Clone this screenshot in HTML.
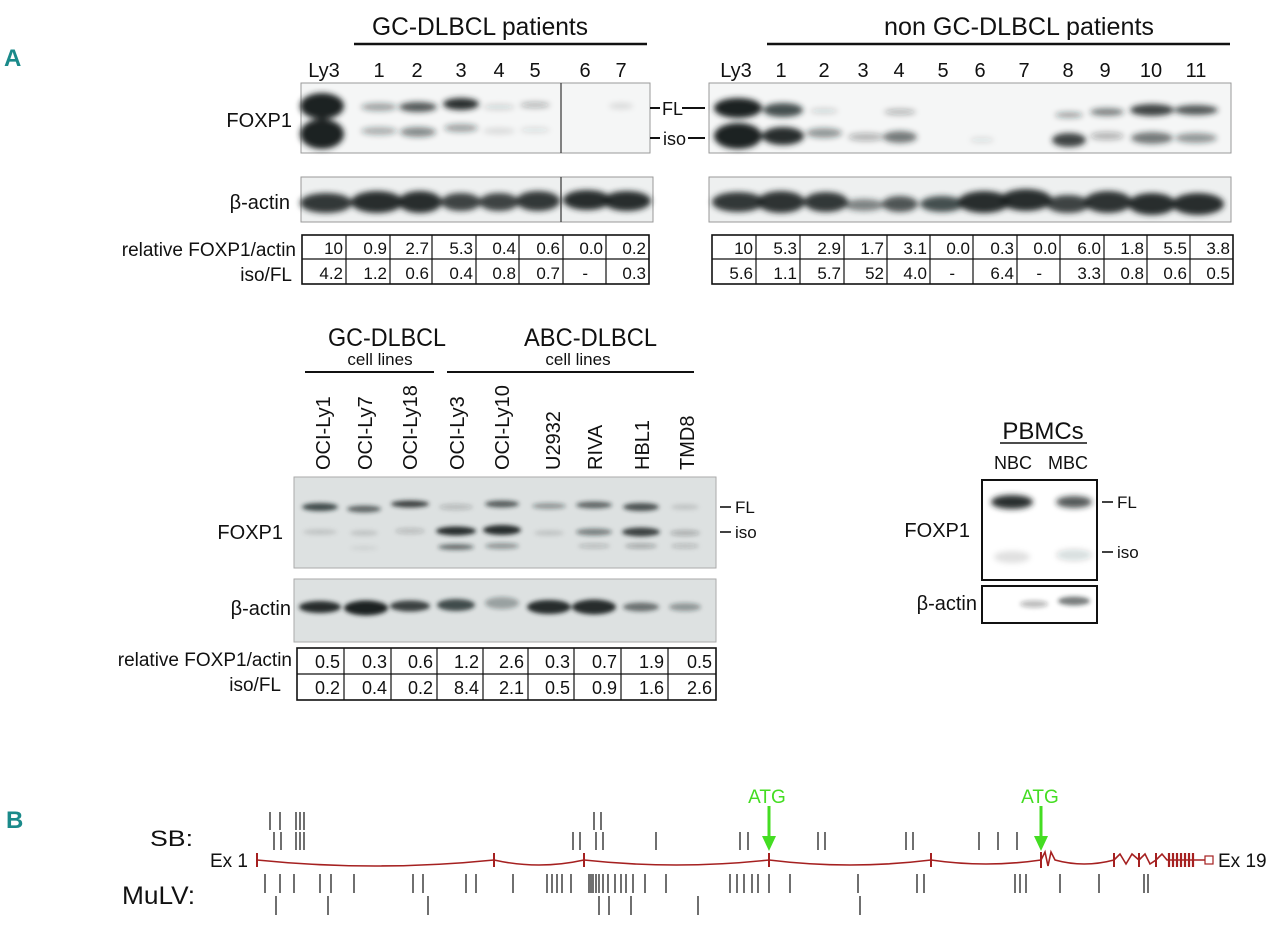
<!DOCTYPE html>
<html><head><meta charset="utf-8"><style>
html,body{margin:0;padding:0;background:#fff;}
svg{display:block;}
text{font-family:"Liberation Sans Narrow","Liberation Sans",sans-serif;fill:#111;}
</style></head><body>
<svg width="1280" height="931" viewBox="0 0 1280 931" xmlns="http://www.w3.org/2000/svg">
<defs>
<filter id="b" x="-50%" y="-100%" width="200%" height="300%"><feGaussianBlur stdDeviation="3"/></filter>
<filter id="b2" x="-50%" y="-100%" width="200%" height="300%"><feGaussianBlur stdDeviation="2"/></filter>
</defs>

<text x="4" y="66" font-size="24" font-weight="bold" style="fill:#1a8a8a">A</text>
<text x="6" y="828" font-size="24" font-weight="bold" style="fill:#1a8a8a">B</text>

<!-- ===== Top-left panel ===== -->
<text x="372" y="35" font-size="25" textLength="216" lengthAdjust="spacingAndGlyphs">GC-DLBCL patients</text>
<line x1="354" y1="44" x2="647" y2="44" stroke="#111" stroke-width="2.5"/>
<g font-size="20" text-anchor="middle">
<text x="324" y="77">Ly3</text><text x="379" y="77">1</text><text x="417" y="77">2</text><text x="461" y="77">3</text>
<text x="499" y="77">4</text><text x="535" y="77">5</text><text x="585" y="77">6</text><text x="621" y="77">7</text>
</g>
<rect x="301" y="83" width="349" height="70" fill="#f5f6f6" stroke="#999"/>
<g filter="url(#b)" fill="#1c2424">
<ellipse cx="322" cy="106" rx="22" ry="13"/><ellipse cx="322" cy="134" rx="22" ry="15"/>
<ellipse cx="379" cy="107" rx="18" ry="4" opacity=".4"/><ellipse cx="379" cy="131" rx="18" ry="4" opacity=".35"/>
<ellipse cx="418" cy="107" rx="19" ry="5" opacity=".75"/><ellipse cx="418" cy="132" rx="18" ry="5" opacity=".5"/>
<ellipse cx="461" cy="104" rx="18" ry="6" opacity=".95"/><ellipse cx="461" cy="128" rx="17" ry="4" opacity=".4"/>
<ellipse cx="499" cy="107" rx="16" ry="3" opacity=".15"/><ellipse cx="499" cy="131" rx="16" ry="3" opacity=".12"/>
<ellipse cx="535" cy="105" rx="15" ry="3" opacity=".3"/><ellipse cx="535" cy="130" rx="15" ry="3" opacity=".1"/>
<ellipse cx="621" cy="106" rx="12" ry="3" opacity=".12"/>
</g>
<line x1="561" y1="83" x2="561" y2="153" stroke="#333" stroke-width="1.2"/>
<text x="292" y="127" font-size="20" text-anchor="end">FOXP1</text>

<rect x="301" y="177" width="352" height="45" fill="#eef0f0" stroke="#999"/>
<g filter="url(#b)" fill="#1c2424">
<ellipse cx="326" cy="203" rx="26" ry="10" opacity=".9"/><ellipse cx="377" cy="202" rx="26" ry="11" opacity=".95"/>
<ellipse cx="420" cy="202" rx="22" ry="11" opacity=".95"/><ellipse cx="461" cy="202" rx="20" ry="9" opacity=".85"/>
<ellipse cx="499" cy="202" rx="20" ry="9" opacity=".85"/><ellipse cx="538" cy="201" rx="22" ry="10" opacity=".9"/>
<ellipse cx="587" cy="200" rx="24" ry="10" opacity=".95"/><ellipse cx="627" cy="201" rx="24" ry="10" opacity=".95"/>
</g>
<line x1="561" y1="177" x2="561" y2="222" stroke="#333" stroke-width="1.2"/>
<text x="290" y="209" font-size="20" text-anchor="end">β-actin</text>

<text x="296" y="256" font-size="19" text-anchor="end">relative FOXP1/actin</text>
<text x="292" y="281" font-size="19" text-anchor="end">iso/FL</text>
<rect x="302" y="235" width="347" height="49" fill="none" stroke="#111" stroke-width="1.6"/>
<line x1="302" y1="259" x2="649" y2="259" stroke="#111" stroke-width="1.2"/>
<g stroke="#111" stroke-width="1.2">
<line x1="346" y1="235" x2="346" y2="284"/><line x1="390" y1="235" x2="390" y2="284"/><line x1="432" y1="235" x2="432" y2="284"/>
<line x1="476" y1="235" x2="476" y2="284"/><line x1="519" y1="235" x2="519" y2="284"/><line x1="563" y1="235" x2="563" y2="284"/>
<line x1="606" y1="235" x2="606" y2="284"/>
</g>
<g font-size="17" text-anchor="end">
<text x="343" y="254">10</text><text x="387" y="254">0.9</text><text x="429" y="254">2.7</text><text x="473" y="254">5.3</text><text x="516" y="254">0.4</text><text x="560" y="254">0.6</text><text x="603" y="254">0.0</text><text x="646" y="254">0.2</text>
<text x="343" y="279">4.2</text><text x="387" y="279">1.2</text><text x="429" y="279">0.6</text><text x="473" y="279">0.4</text><text x="516" y="279">0.8</text><text x="560" y="279">0.7</text><text x="588" y="279">-</text><text x="646" y="279">0.3</text>
</g>

<line x1="650" y1="108" x2="660" y2="108" stroke="#111" stroke-width="2"/>
<text x="662" y="115" font-size="18">FL</text>
<line x1="682" y1="108" x2="705" y2="108" stroke="#111" stroke-width="2"/>
<line x1="650" y1="138" x2="660" y2="138" stroke="#111" stroke-width="2"/>
<text x="663" y="145" font-size="18">iso</text>
<line x1="688" y1="138" x2="705" y2="138" stroke="#111" stroke-width="2"/>

<!-- ===== Top-right panel ===== -->
<text x="884" y="35" font-size="25" textLength="270" lengthAdjust="spacingAndGlyphs">non GC-DLBCL patients</text>
<line x1="767" y1="44" x2="1230" y2="44" stroke="#111" stroke-width="2.5"/>
<g font-size="20" text-anchor="middle">
<text x="736" y="77">Ly3</text><text x="781" y="77">1</text><text x="824" y="77">2</text><text x="863" y="77">3</text>
<text x="899" y="77">4</text><text x="943" y="77">5</text><text x="980" y="77">6</text><text x="1024" y="77">7</text>
<text x="1068" y="77">8</text><text x="1105" y="77">9</text><text x="1151" y="77">10</text><text x="1196" y="77">11</text>
</g>
<rect x="709" y="83" width="522" height="70" fill="#f5f6f6" stroke="#999"/>
<g filter="url(#b)" fill="#1c2424">
<ellipse cx="738" cy="108" rx="24" ry="10"/><ellipse cx="738" cy="136" rx="24" ry="13"/>
<ellipse cx="783" cy="110" rx="20" ry="7" opacity=".8"/><ellipse cx="783" cy="136" rx="21" ry="9" opacity=".95"/>
<ellipse cx="824" cy="111" rx="14" ry="3" opacity=".15"/><ellipse cx="824" cy="133" rx="18" ry="5" opacity=".45"/>
<ellipse cx="866" cy="137" rx="18" ry="4" opacity=".3"/>
<ellipse cx="900" cy="112" rx="16" ry="3" opacity=".3"/><ellipse cx="900" cy="137" rx="17" ry="6" opacity=".6"/>
<ellipse cx="982" cy="140" rx="12" ry="3" opacity=".1"/>
<ellipse cx="1069" cy="115" rx="14" ry="3" opacity=".4"/><ellipse cx="1069" cy="140" rx="17" ry="7" opacity=".85"/>
<ellipse cx="1107" cy="112" rx="17" ry="4" opacity=".55"/><ellipse cx="1107" cy="136" rx="17" ry="4" opacity=".3"/>
<ellipse cx="1152" cy="110" rx="22" ry="6" opacity=".85"/><ellipse cx="1152" cy="138" rx="21" ry="6" opacity=".6"/>
<ellipse cx="1196" cy="110" rx="22" ry="5" opacity=".75"/><ellipse cx="1196" cy="138" rx="21" ry="5" opacity=".45"/>
</g>
<rect x="709" y="177" width="522" height="45" fill="#eef0f0" stroke="#999"/>
<g filter="url(#b)" fill="#1c2424">
<ellipse cx="738" cy="202" rx="26" ry="10" opacity=".9"/><ellipse cx="781" cy="202" rx="24" ry="11" opacity=".92"/>
<ellipse cx="826" cy="202" rx="22" ry="10" opacity=".9"/><ellipse cx="864" cy="205" rx="20" ry="6" opacity=".55"/>
<ellipse cx="900" cy="204" rx="18" ry="8" opacity=".75"/><ellipse cx="942" cy="204" rx="22" ry="8" opacity=".8"/>
<ellipse cx="984" cy="202" rx="26" ry="11" opacity=".95"/><ellipse cx="1026" cy="200" rx="26" ry="11" opacity=".95"/>
<ellipse cx="1068" cy="204" rx="22" ry="9" opacity=".85"/><ellipse cx="1108" cy="202" rx="24" ry="11" opacity=".92"/>
<ellipse cx="1152" cy="204" rx="24" ry="11" opacity=".95"/><ellipse cx="1198" cy="204" rx="26" ry="11" opacity=".95"/>
</g>
<rect x="712" y="235" width="521" height="49" fill="none" stroke="#111" stroke-width="1.6"/>
<line x1="712" y1="259" x2="1233" y2="259" stroke="#111" stroke-width="1.2"/>
<g stroke="#111" stroke-width="1.2">
<line x1="756" y1="235" x2="756" y2="284"/><line x1="800" y1="235" x2="800" y2="284"/><line x1="844" y1="235" x2="844" y2="284"/>
<line x1="887" y1="235" x2="887" y2="284"/><line x1="930" y1="235" x2="930" y2="284"/><line x1="973" y1="235" x2="973" y2="284"/>
<line x1="1017" y1="235" x2="1017" y2="284"/><line x1="1060" y1="235" x2="1060" y2="284"/><line x1="1104" y1="235" x2="1104" y2="284"/>
<line x1="1147" y1="235" x2="1147" y2="284"/><line x1="1190" y1="235" x2="1190" y2="284"/>
</g>
<g font-size="17" text-anchor="end">
<text x="753" y="254">10</text><text x="797" y="254">5.3</text><text x="841" y="254">2.9</text><text x="884" y="254">1.7</text><text x="927" y="254">3.1</text><text x="970" y="254">0.0</text><text x="1014" y="254">0.3</text><text x="1057" y="254">0.0</text><text x="1101" y="254">6.0</text><text x="1144" y="254">1.8</text><text x="1187" y="254">5.5</text><text x="1230" y="254">3.8</text>
<text x="753" y="279">5.6</text><text x="797" y="279">1.1</text><text x="841" y="279">5.7</text><text x="884" y="279">52</text><text x="927" y="279">4.0</text><text x="955" y="279">-</text><text x="1014" y="279">6.4</text><text x="1042" y="279">-</text><text x="1101" y="279">3.3</text><text x="1144" y="279">0.8</text><text x="1187" y="279">0.6</text><text x="1230" y="279">0.5</text>
</g>

<!-- ===== Middle panel ===== -->
<text x="328" y="346" font-size="25" textLength="118" lengthAdjust="spacingAndGlyphs">GC-DLBCL</text>
<text x="524" y="346" font-size="25" textLength="133" lengthAdjust="spacingAndGlyphs">ABC-DLBCL</text>
<text x="380" y="365" font-size="17" text-anchor="middle">cell lines</text>
<text x="578" y="365" font-size="17" text-anchor="middle">cell lines</text>
<line x1="305" y1="372" x2="434" y2="372" stroke="#111" stroke-width="2"/>
<line x1="447" y1="372" x2="694" y2="372" stroke="#111" stroke-width="2"/>
<g font-size="20" font-family="Liberation Sans, sans-serif">
<text transform="translate(330,470) rotate(-90)">OCI-Ly1</text>
<text transform="translate(372,470) rotate(-90)">OCI-Ly7</text>
<text transform="translate(417,470) rotate(-90)">OCI-Ly18</text>
<text transform="translate(464,470) rotate(-90)">OCI-Ly3</text>
<text transform="translate(509,470) rotate(-90)">OCI-Ly10</text>
<text transform="translate(560,470) rotate(-90)">U2932</text>
<text transform="translate(602,470) rotate(-90)">RIVA</text>
<text transform="translate(649,470) rotate(-90)">HBL1</text>
<text transform="translate(694,470) rotate(-90)">TMD8</text>
</g>
<rect x="294" y="477" width="422" height="91" fill="#dde1e1" stroke="#aaa"/>
<g filter="url(#b2)" fill="#1c2424">
<ellipse cx="320" cy="507" rx="18" ry="4" opacity=".8"/><ellipse cx="364" cy="509" rx="17" ry="3.5" opacity=".65"/>
<ellipse cx="410" cy="504" rx="19" ry="3.5" opacity=".85"/><ellipse cx="456" cy="507" rx="17" ry="3" opacity=".2"/>
<ellipse cx="502" cy="504" rx="17" ry="3.5" opacity=".7"/><ellipse cx="549" cy="506" rx="17" ry="3" opacity=".4"/>
<ellipse cx="594" cy="505" rx="18" ry="3.5" opacity=".65"/><ellipse cx="641" cy="507" rx="18" ry="4" opacity=".75"/>
<ellipse cx="685" cy="507" rx="14" ry="3" opacity=".12"/>
<ellipse cx="320" cy="532" rx="17" ry="3" opacity=".12"/><ellipse cx="364" cy="533" rx="14" ry="3" opacity=".12"/>
<ellipse cx="410" cy="531" rx="15" ry="3" opacity=".18"/><ellipse cx="456" cy="531" rx="20" ry="4.5" opacity=".95"/>
<ellipse cx="502" cy="530" rx="19" ry="5" opacity=".95"/><ellipse cx="549" cy="533" rx="15" ry="3" opacity=".12"/>
<ellipse cx="594" cy="532" rx="18" ry="3.5" opacity=".5"/><ellipse cx="641" cy="532" rx="19" ry="4.5" opacity=".85"/>
<ellipse cx="685" cy="533" rx="15" ry="3" opacity=".25"/>
<ellipse cx="364" cy="548" rx="14" ry="2.5" opacity=".06"/>
<ellipse cx="456" cy="547" rx="18" ry="3" opacity=".6"/><ellipse cx="502" cy="546" rx="17" ry="3" opacity=".4"/>
<ellipse cx="594" cy="546" rx="16" ry="2.5" opacity=".2"/><ellipse cx="641" cy="546" rx="16" ry="2.5" opacity=".3"/>
<ellipse cx="685" cy="546" rx="14" ry="2.5" opacity=".2"/>
</g>
<text x="283" y="539" font-size="20" text-anchor="end">FOXP1</text>
<line x1="720" y1="507" x2="731" y2="507" stroke="#111" stroke-width="1.6"/>
<text x="735" y="513" font-size="17">FL</text>
<line x1="720" y1="532" x2="731" y2="532" stroke="#111" stroke-width="1.6"/>
<text x="735" y="538" font-size="17">iso</text>

<rect x="294" y="579" width="422" height="63" fill="#dde1e1" stroke="#aaa"/>
<g filter="url(#b2)" fill="#1c2424">
<ellipse cx="320" cy="607" rx="21" ry="6" opacity=".95"/><ellipse cx="366" cy="608" rx="22" ry="7.5" opacity="1"/>
<ellipse cx="410" cy="606" rx="20" ry="5.5" opacity=".85"/><ellipse cx="456" cy="605" rx="19" ry="6" opacity=".8"/>
<ellipse cx="502" cy="603" rx="17" ry="6" opacity=".35"/><ellipse cx="549" cy="607" rx="22" ry="7" opacity=".95"/>
<ellipse cx="594" cy="607" rx="22" ry="7.5" opacity=".95"/><ellipse cx="641" cy="607" rx="18" ry="4.5" opacity=".6"/>
<ellipse cx="685" cy="607" rx="16" ry="4" opacity=".4"/>
</g>
<text x="291" y="615" font-size="20" text-anchor="end">β-actin</text>

<text x="292" y="666" font-size="19" text-anchor="end">relative FOXP1/actin</text>
<text x="281" y="691" font-size="19" text-anchor="end">iso/FL</text>
<rect x="297" y="648" width="419" height="52" fill="none" stroke="#111" stroke-width="1.6"/>
<line x1="297" y1="674" x2="716" y2="674" stroke="#111" stroke-width="1.2"/>
<g stroke="#111" stroke-width="1.2">
<line x1="344" y1="648" x2="344" y2="700"/><line x1="391" y1="648" x2="391" y2="700"/><line x1="437" y1="648" x2="437" y2="700"/>
<line x1="483" y1="648" x2="483" y2="700"/><line x1="528" y1="648" x2="528" y2="700"/><line x1="574" y1="648" x2="574" y2="700"/>
<line x1="621" y1="648" x2="621" y2="700"/><line x1="668" y1="648" x2="668" y2="700"/>
</g>
<g font-size="18" text-anchor="end">
<text x="340" y="668">0.5</text><text x="387" y="668">0.3</text><text x="433" y="668">0.6</text><text x="479" y="668">1.2</text><text x="524" y="668">2.6</text><text x="570" y="668">0.3</text><text x="617" y="668">0.7</text><text x="664" y="668">1.9</text><text x="712" y="668">0.5</text>
<text x="340" y="694">0.2</text><text x="387" y="694">0.4</text><text x="433" y="694">0.2</text><text x="479" y="694">8.4</text><text x="524" y="694">2.1</text><text x="570" y="694">0.5</text><text x="617" y="694">0.9</text><text x="664" y="694">1.6</text><text x="712" y="694">2.6</text>
</g>

<!-- ===== PBMCs ===== -->
<text x="1043" y="439" font-size="24" text-anchor="middle" font-family="Liberation Sans, sans-serif">PBMCs</text>
<line x1="1000" y1="443" x2="1087" y2="443" stroke="#111" stroke-width="1.5"/>
<text x="1013" y="469" font-size="18" text-anchor="middle" font-family="Liberation Sans, sans-serif">NBC</text>
<text x="1068" y="469" font-size="18" text-anchor="middle" font-family="Liberation Sans, sans-serif">MBC</text>
<rect x="982" y="480" width="115" height="100" fill="#fff" stroke="#111" stroke-width="2"/>
<g filter="url(#b)" fill="#1c2424">
<ellipse cx="1012" cy="502" rx="21" ry="7" opacity=".95"/><ellipse cx="1074" cy="502" rx="18" ry="6" opacity=".75"/>
<ellipse cx="1012" cy="557" rx="18" ry="6" opacity=".12"/><ellipse cx="1074" cy="555" rx="18" ry="6" opacity=".15"/>
</g>
<text x="970" y="537" font-size="20" text-anchor="end" font-family="Liberation Sans, sans-serif">FOXP1</text>
<line x1="1102" y1="502" x2="1113" y2="502" stroke="#111" stroke-width="1.6"/>
<text x="1117" y="508" font-size="17" font-family="Liberation Sans, sans-serif">FL</text>
<line x1="1102" y1="552" x2="1113" y2="552" stroke="#111" stroke-width="1.6"/>
<text x="1117" y="558" font-size="17" font-family="Liberation Sans, sans-serif">iso</text>
<rect x="982" y="586" width="115" height="37" fill="#fff" stroke="#111" stroke-width="2"/>
<g filter="url(#b2)" fill="#1c2424">
<ellipse cx="1034" cy="604" rx="14" ry="3.5" opacity=".3"/><ellipse cx="1074" cy="601" rx="16" ry="4.5" opacity=".6"/>
</g>
<text x="977" y="610" font-size="20" text-anchor="end" font-family="Liberation Sans, sans-serif">β-actin</text>

<!-- ===== Panel B ===== -->
<text x="150" y="846" font-size="22" textLength="43" lengthAdjust="spacingAndGlyphs" font-family="Liberation Sans, sans-serif">SB:</text>
<text x="122" y="904" font-size="25" textLength="73" lengthAdjust="spacingAndGlyphs" font-family="Liberation Sans, sans-serif">MuLV:</text>
<text x="248" y="867" font-size="19" text-anchor="end" font-family="Liberation Sans, sans-serif">Ex 1</text>
<text x="1218" y="867" font-size="19" font-family="Liberation Sans, sans-serif">Ex 19</text>

<g stroke="#222" stroke-width="1.3">
<path d="M270 812V830M280 812V830M296 812V830M300 812V830M304 812V830M594 812V830M601 812V830"/>
<path d="M274 832V850M281 832V850M296 832V850M300 832V850M304 832V850M573 832V850M580 832V850M596 832V850M603 832V850M656 832V850M740 832V850M748 832V850M818 832V850M825 832V850M906 832V850M913 832V850M979 832V850M998 832V850M1017 832V850"/>
<path d="M265 874V893M280 874V893M294 874V893M320 874V893M331 874V893M354 874V893M413 874V893M423 874V893M466 874V893M476 874V893M513 874V893M547 874V893M552 874V893M557 874V893M562 874V893M571 874V893M589 874V893M591 874V893M593 874V893M596 874V893M599 874V893M603 874V893M608 874V893M615 874V893M621 874V893M626 874V893M633 874V893M645 874V893M666 874V893M730 874V893M737 874V893M744 874V893M752 874V893M758 874V893M769 874V893M790 874V893M858 874V893M917 874V893M924 874V893M1015 874V893M1020 874V893M1026 874V893M1060 874V893M1099 874V893M1144 874V893M1148 874V893"/>
<path d="M276 896V915M328 896V915M428 896V915M599 896V915M609 896V915M631 896V915M698 896V915M860 896V915"/>
</g>

<g stroke="#a52020" fill="none" stroke-width="1.6">
<path d="M257 860 Q375 872 494 860 Q539 870 584 860 Q676 870 769 860 Q850 870 931 860 Q986 868 1041 860 L1045 852 L1048 866 L1051 852 L1055 860 Q1084 868 1114 860 L1120 854 L1126 864 L1132 854 L1139 860 L1145 854 L1150 864 L1156 860 L1162 854 L1167 860 L1194 860 L1205 860"/>
<path d="M257 853V867M494 853V867M584 853V867M769 853V867M931 853V867M1041 852V868M1114 853V867M1139 853V867M1156 853V867" stroke-width="2"/>
<path d="M1169 853V867M1173 853V867M1177 853V867M1181 853V867M1185 853V867M1189 853V867M1193 853V867" stroke-width="2.2"/>
<rect x="1205" y="856" width="8" height="8" stroke-width="1.2"/>
</g>

<g fill="#44dd22" stroke="none">
<text x="767" y="803" font-size="19" text-anchor="middle" style="fill:#44dd22" font-family="Liberation Sans, sans-serif">ATG</text>
<rect x="767.5" y="806" width="3" height="32"/>
<polygon points="762,836 776,836 769,851"/>
<text x="1040" y="803" font-size="19" text-anchor="middle" style="fill:#44dd22" font-family="Liberation Sans, sans-serif">ATG</text>
<rect x="1039.5" y="806" width="3" height="32"/>
<polygon points="1034,836 1048,836 1041,851"/>
</g>
</svg>
</body></html>
